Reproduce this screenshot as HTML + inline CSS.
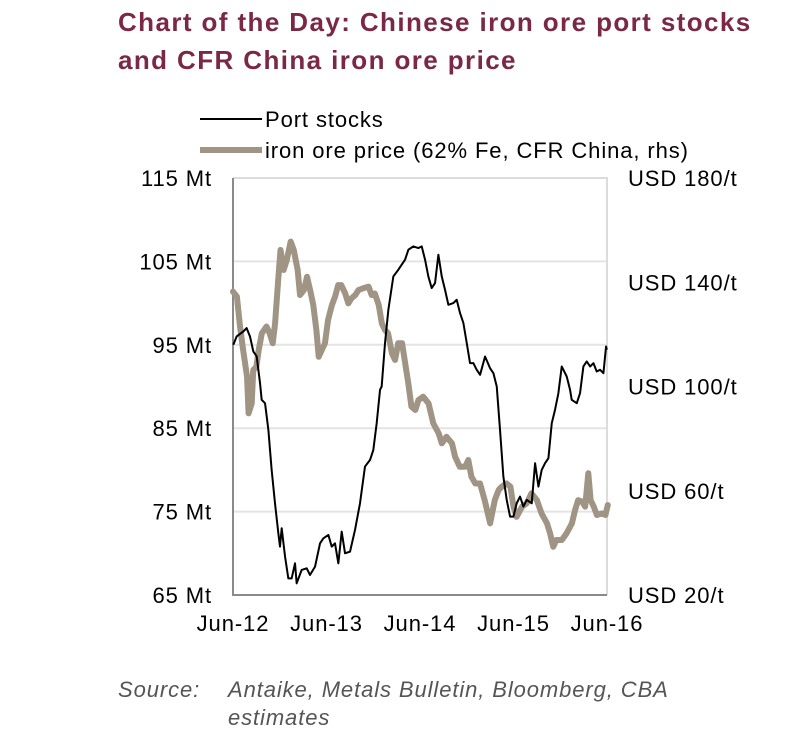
<!DOCTYPE html>
<html><head><meta charset="utf-8"><style>
body{margin:0;background:#fff;}
svg{display:block;font-family:"Liberation Sans",Arial,sans-serif;}
.lbl{font-size:22px;letter-spacing:0.9px;}
</style></head><body>
<svg id="chart" width="805" height="743" viewBox="0 0 805 743">
<text x="118" y="31" font-size="26" font-weight="bold" fill="#7a2846" letter-spacing="1.4">Chart of the Day: Chinese iron ore port stocks</text>
<text x="118" y="69" font-size="26" font-weight="bold" fill="#7a2846" letter-spacing="1.4">and CFR China iron ore price</text>
<g>
<line x1="200" y1="119" x2="262" y2="119" stroke="#000" stroke-width="2"/>
<text x="265" y="127" class="lbl">Port stocks</text>
<line x1="200" y1="150" x2="262" y2="150" stroke="#a09484" stroke-width="6"/>
<text x="265" y="158" class="lbl">iron ore price (62% Fe, CFR China, rhs)</text>
</g>
<g id="grid"></g>
<g id="axes"></g>
<g id="series"></g>
<text x="118" y="697" class="lbl" font-style="italic" fill="#555">Source:</text>
<text x="228" y="697" class="lbl" font-style="italic" fill="#555">Antaike, Metals Bulletin, Bloomberg, CBA</text>
<text x="228" y="725" class="lbl" font-style="italic" fill="#555">estimates</text>
</svg>
<script>
const leftTicks=[115,105,95,85,75,65];
const leftTickLabels=["115 Mt","105 Mt","95 Mt","85 Mt","75 Mt","65 Mt"];
const rightTicks=[180,140,100,60,20];
const rightTickLabels=["USD 180/t","USD 140/t","USD 100/t","USD 60/t","USD 20/t"];
const xTicks=[0,12,24,36,48];
const xTickLabels=["Jun-12","Jun-13","Jun-14","Jun-15","Jun-16"];
// months since Jun-12
const stockMonths=[0.04,0.47,1.33,1.75,2.18,2.61,3.04,3.47,3.68,4.11,4.54,4.96,5.39,5.82,6.03,6.25,6.68,7.1,7.53,7.96,8.17,8.81,9.46,9.88,10.53,11.17,11.6,12.24,12.67,13.09,13.52,13.95,14.38,15.02,15.66,16.3,16.94,17.59,18.01,18.44,18.87,19.08,19.51,19.94,20.58,21.22,21.65,22.08,22.51,23.15,23.79,24.22,24.65,25.07,25.5,25.93,26.36,26.79,27.21,27.64,28.28,28.71,29.14,29.57,30.0,30.42,30.85,31.28,31.71,32.35,32.99,33.42,33.85,34.27,34.7,35.13,35.56,35.99,36.41,36.84,37.27,37.7,38.34,38.77,39.2,39.62,40.05,40.48,40.91,41.33,41.76,42.19,42.83,43.26,43.47,44.12,44.54,44.97,45.4,45.83,46.26,46.68,47.11,47.54,47.88,47.97];
const stockValues=[95.0,96.0,96.6,97.0,96.0,94.2,93.6,90.4,88.4,88.0,84.8,80.0,76.0,72.4,70.8,73.0,69.6,67.0,67.0,68.8,66.4,68.0,68.2,67.4,68.4,71.2,71.8,72.2,70.8,71.2,68.8,72.6,70.0,70.2,72.8,76.0,80.4,81.2,82.4,85.6,89.6,90.0,95.2,99.2,103.2,104.0,104.6,105.2,106.4,106.8,106.6,106.8,105.2,103.2,101.8,102.4,105.8,103.2,101.6,99.8,100.0,100.4,98.8,97.6,95.2,92.8,92.8,92.0,91.4,93.6,92.2,91.6,90.0,84.8,79.2,76.4,74.4,74.4,76.0,76.8,75.6,76.4,76.0,80.8,78.0,80.0,80.8,81.4,85.6,87.2,89.2,92.4,91.2,89.6,88.4,88.0,89.2,92.4,93.0,92.4,92.8,91.8,92.0,91.6,94.8,94.4];
const priceMonths=[0.0,0.5,0.9,1.3,1.8,2.0,2.4,2.6,3.0,3.3,3.7,4.3,4.7,5.1,5.4,5.8,6.1,6.5,6.9,7.4,7.8,8.3,8.6,9.1,9.5,9.9,10.3,10.7,11.0,11.4,11.8,12.2,12.7,13.1,13.5,13.9,14.4,14.8,15.2,15.7,16.1,16.7,17.4,17.8,18.2,18.7,19.1,19.5,19.9,20.4,20.8,21.2,21.7,22.1,22.5,22.9,23.4,23.8,24.4,25.1,25.7,26.4,26.8,27.4,28.1,28.5,29.1,29.8,30.2,30.6,31.1,31.7,32.3,33.0,33.6,34.1,34.5,35.1,35.6,36.0,36.4,37.1,37.7,38.3,39.0,39.6,40.3,40.7,41.1,41.5,42.2,42.8,43.5,43.9,44.3,44.8,45.2,45.6,45.9,46.3,46.7,47.3,47.8,48.1];
const priceValues=[136.4,134.5,123.0,114.0,103.8,89.7,93.5,106.3,107.6,114.0,120.4,123.0,120.4,116.6,124.2,140.9,152.4,144.7,148.5,155.6,152.4,144.7,135.1,137.0,142.1,137.0,131.3,121.7,111.4,114.0,116.6,125.5,131.3,134.5,138.9,138.9,135.7,131.9,133.8,135.1,137.0,137.7,138.3,135.1,135.7,131.3,124.2,121.7,120.4,112.7,110.2,116.6,116.6,108.9,101.2,92.3,91.0,94.8,96.1,93.5,85.9,82.0,78.2,80.7,78.2,73.1,69.2,69.2,71.8,65.4,62.8,62.8,56.4,47.5,56.4,60.3,61.6,62.8,61.6,53.9,50.0,53.9,55.2,59.0,56.4,51.3,47.5,43.6,38.5,41.1,41.1,43.6,47.5,52.6,56.4,55.8,53.9,66.7,56.4,53.9,50.7,51.3,50.7,54.5];

const L=233,R=607,T=178,B=595;
const xS=m=>L+(m/48)*(R-L);
const yL=v=>T+(115-v)/50*(B-T);
const yR=v=>T+(180-v)/160*(B-T);
const NS="http://www.w3.org/2000/svg";
function mk(tag,attrs,parent,txt){const e=document.createElementNS(NS,tag);for(const k in attrs)e.setAttribute(k,attrs[k]);if(txt!==undefined)e.textContent=txt;parent.appendChild(e);return e;}
const grid=document.getElementById('grid'),axes=document.getElementById('axes'),series=document.getElementById('series');
leftTicks.forEach((v,i)=>{
  if(v!==115&&v!==65){const g=mk('line',{x1:L,x2:R,y1:yL(v),y2:yL(v),stroke:'#e4e4e4','stroke-width':2},grid);
  
  }
  const t=mk('text',{x:212,y:yL(v)+8,class:'lbl','text-anchor':'end'},axes,leftTickLabels[i]);
  
  
});
rightTicks.forEach((v,i)=>{
  const t=mk('text',{x:628,y:yR(v)+8,class:'lbl'},axes,rightTickLabels[i]);
  
  
});
xTicks.forEach((m,i)=>{
  const t=mk('text',{x:xS(m),y:631,class:'lbl','text-anchor':'middle'},axes,xTickLabels[i]);
  
  
});
const fr=mk('path',{d:`M${L},${T} H${R} V${B}`,fill:'none',stroke:'#dcdcdc','stroke-width':2},axes);


const ax=mk('path',{d:`M${L},${T} V${B} H${R}`,fill:'none',stroke:'#8a8a8a','stroke-width':2},axes);


const pp=mk('polyline',{points:priceMonths.map((m,i)=>xS(m)+','+yR(priceValues[i])).join(' '),fill:'none',stroke:'#a09484','stroke-width':6,'stroke-linejoin':'round','stroke-linecap':'round'},series);


const sp=mk('polyline',{points:stockMonths.map((m,i)=>xS(m)+','+yL(stockValues[i])).join(' '),fill:'none',stroke:'#000','stroke-width':2,'stroke-linejoin':'round'},series);


</script>
</body></html>
